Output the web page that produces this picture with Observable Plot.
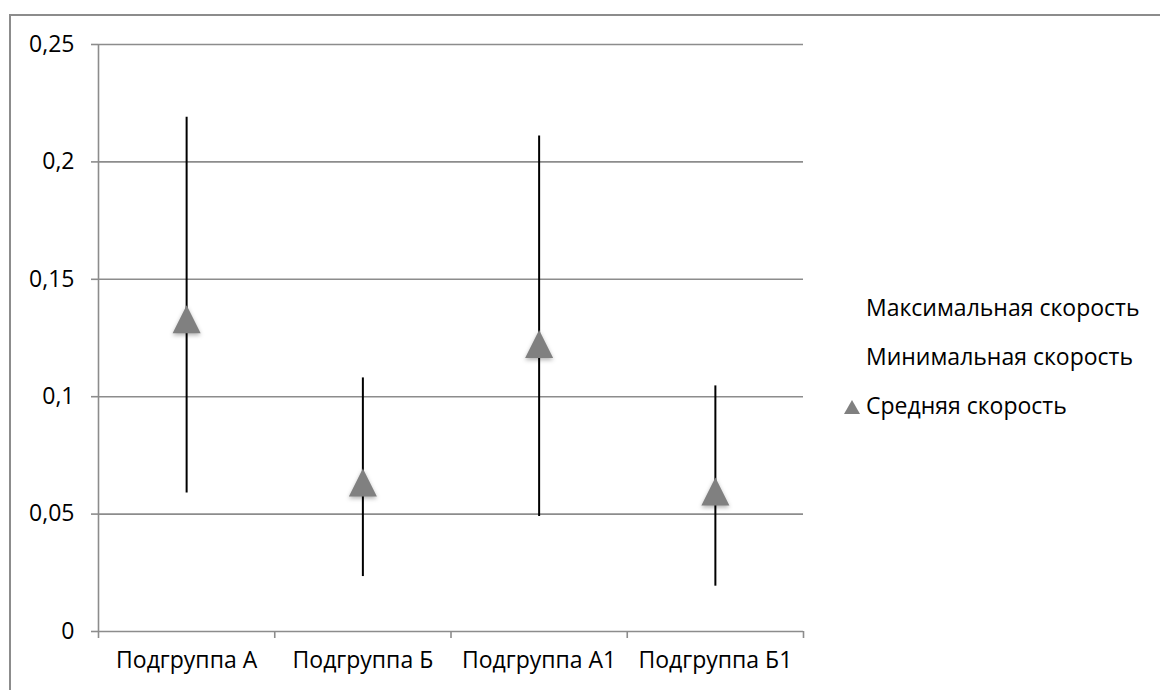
<!DOCTYPE html>
<html>
<head>
<meta charset="utf-8">
<script src="https://cdn.jsdelivr.net/npm/d3@7"></script>
<script src="https://cdn.jsdelivr.net/npm/@observablehq/plot@0.6"></script>
<style>
  html, body { margin: 0; padding: 0; background: #fff; }
  #wrap { position: relative; width: 1160px; height: 690px; overflow: hidden; font-family: "Open Sans", sans-serif; }
  #frame { position: absolute; left: 9px; top: 14px; width: 1200px; height: 760px; border: 2px solid #8c8c8c; box-sizing: border-box; }
  #chart { position: absolute; left: 0; top: 0; }
  .legend { position: absolute; left: 843px; font-size: 23px; color: #000; white-space: nowrap; }
  .legend .item { position: absolute; left: 0; height: 30px; line-height: 30px; }
  .legend .sw { display: inline-block; width: 23px; }
  .mean path { filter: drop-shadow(0px 2px 2px rgba(0,0,0,0.3)); }
</style>
</head>
<body>
<div id="wrap">
  <div id="frame"></div>
  <div id="chart"></div>
  <div class="legend" id="legend"></div>
</div>
<script>
const categories = ["Подгруппа А", "Подгруппа Б", "Подгруппа А1", "Подгруппа Б1"];
const maxSpeed = [0.219, 0.108, 0.211, 0.1046];
const minSpeed = [0.059, 0.0234, 0.049, 0.0193];
const meanSpeed = [0.133, 0.0635, 0.1224, 0.0596];
const yTicks = [0, 0.05, 0.1, 0.15, 0.2, 0.25];
const yTickLabels = ["0", "0,05", "0,1", "0,15", "0,2", "0,25"];
const seriesNames = ["Максимальная скорость", "Минимальная скорость", "Средняя скорость"];

const rows = categories.map((c, i) => ({
  cat: c, pos: i + 0.5, max: maxSpeed[i], min: minSpeed[i], mean: meanSpeed[i]
}));
const boundaries = d3.range(categories.length + 1);
const centers = categories.map((c, i) => i + 0.5);

// isosceles triangle (width == height) like the spreadsheet marker
const triangle = {
  draw(ctx, size) {
    const s = Math.sqrt(size / Math.PI) * 2;
    const h = s / 2;
    ctx.moveTo(0, -h);
    ctx.lineTo(h, h);
    ctx.lineTo(-h, h);
    ctx.closePath();
  }
};

const grid = "#8c8c8c";
const chart = Plot.plot({
  width: 1160,
  height: 690,
  marginLeft: 98,
  marginRight: 357,
  marginTop: 44,
  marginBottom: 59,
  style: { fontFamily: "Open Sans, sans-serif", fontSize: "23px", color: "#000", background: "transparent", overflow: "visible" },
  x: { type: "linear", domain: [0, categories.length] },
  y: { domain: [0, 0.25] },
  marks: [
    Plot.ruleY(yTicks.slice(1), { stroke: grid, strokeWidth: 1.6 }),
    Plot.axisY({ ticks: yTicks, tickFormat: (d) => yTickLabels[yTicks.indexOf(d)], tickSize: 7, tickPadding: 17, stroke: grid, strokeWidth: 1.6, label: null, fontSize: 23 }),
    Plot.axisX({ ticks: boundaries, tickSize: 7, tickFormat: () => "", stroke: grid, strokeWidth: 1.6, label: null }),
    Plot.axisX({ ticks: centers, tickSize: 0, tickPadding: 20, tickFormat: (d) => categories[Math.floor(d)], label: null, fontSize: 23 }),
    Plot.ruleX([0], { stroke: grid, strokeWidth: 1.6 }),
    Plot.ruleY([0], { stroke: grid, strokeWidth: 1.6 }),
    Plot.ruleX(rows, { x: "pos", y1: "min", y2: "max", stroke: "#000", strokeWidth: 2 }),
    Plot.dot(rows, { x: "pos", y: "mean", symbol: triangle, r: 14, fill: "#808080", stroke: "none", className: "mean" })
  ]
});
document.getElementById("chart").appendChild(chart);

// legend
const legend = document.getElementById("legend");
const legendTops = [292, 341, 390];
seriesNames.forEach((name, i) => {
  const item = document.createElement("div");
  item.className = "item";
  item.style.top = legendTops[i] + "px";
  const sw = document.createElement("span");
  sw.className = "sw";
  if (i === 2) {
    sw.innerHTML = '<svg width="18" height="16" style="vertical-align:-1px"><path d="M9,1 L17,15 L1,15 Z" fill="#808080"/></svg>';
  }
  item.appendChild(sw);
  item.appendChild(document.createTextNode(name));
  legend.appendChild(item);
});
</script>
</body>
</html>
